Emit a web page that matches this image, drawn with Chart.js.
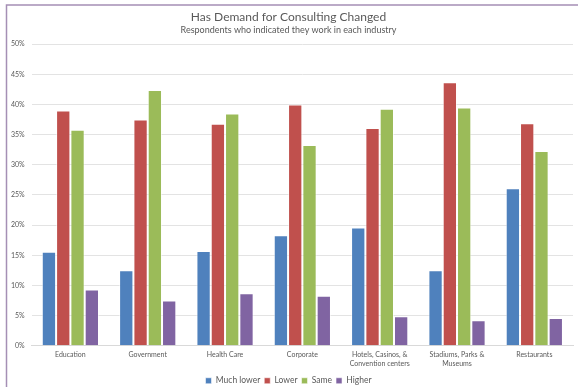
<!DOCTYPE html>
<html>
<head>
<meta charset="utf-8">
<script src="https://cdn.jsdelivr.net/npm/chart.js@4"></script>
<style>
  html, body { margin: 0; padding: 0; background: #fff; }
  #wrap { width: 578px; height: 387px; position: relative; }
</style>
</head>
<body>
<div id="wrap"><canvas id="demandChart"></canvas></div>
<script>
// Industries along the x axis
const industries = [
  "Education",
  "Government",
  "Health Care",
  "Corporate",
  ["Hotels, Casinos, &", "Convention centers"],
  ["Stadiums, Parks &", "Museums"],
  "Restaurants",
];

// Share of respondents per answer (percent)
const muchLower = [15.6, 12.5, 15.7, 18.3, 19.6, 12.5, 26.1];
const lower = [39.0, 37.5, 36.8, 40.0, 36.1, 43.7, 36.9];
const same = [35.8, 42.4, 38.5, 33.3, 39.3, 39.5, 32.3];
const higher = [9.3, 7.5, 8.7, 8.3, 4.9, 4.2, 4.6];

const seriesNames = ["Much lower", "Lower", "Same", "Higher"];
const seriesColors = ["#4f81bd", "#c0504d", "#9bbb59", "#8064a2"];

// Light purple frame along the top and left edge
const framePlugin = {
  id: "frame",
  beforeDraw(chart) {
    const ctx = chart.ctx;
    ctx.save();
    ctx.strokeStyle = "#a58fb5";
    ctx.lineWidth = 1.5;
    ctx.beginPath();
    ctx.moveTo(6.5, chart.height);
    ctx.lineTo(6.5, 5);
    ctx.lineTo(chart.width, 5);
    ctx.stroke();
    ctx.restore();
  },
};

const fontFamily = "Lato, 'Open Sans', sans-serif";
const labelFont = { family: fontFamily, size: 7 };

const ctx = document.getElementById("demandChart").getContext("2d");
new Chart(ctx, {
  type: "bar",
  data: {
    labels: industries,
    datasets: [muchLower, lower, same, higher].map((values, i) => ({
      label: seriesNames[i],
      data: values,
      backgroundColor: seriesColors[i],
      borderColor: "rgba(255,255,255,0.55)",
      borderWidth: 1,
      barPercentage: 1,
      categoryPercentage: 0.74,
    })),
  },
  options: {
    responsive: true,
    maintainAspectRatio: false,
    animation: false,
    layout: { padding: { left: 4, top: 10, right: 5, bottom: -8 } },
    plugins: {
      title: {
        display: true,
        text: "Has Demand for Consulting Changed",
        color: "#595959",
        font: { family: fontFamily, size: 12, weight: "normal" },
        padding: { top: 0, bottom: 0 },
      },
      subtitle: {
        display: true,
        text: "Respondents who indicated they work in each industry",
        color: "#595959",
        font: { family: fontFamily, size: 9 },
        padding: { top: 0, bottom: 9 },
      },
      legend: {
        position: "bottom",
        labels: {
          boxWidth: 6,
          boxHeight: 6,
          padding: 4,
          color: "#595959",
          font: { family: fontFamily, size: 8.5 },
        },
      },
      tooltip: { enabled: false },
    },
    scales: {
      x: {
        grid: { display: false, drawTicks: false },
        border: { color: "#d9d9d9" },
        ticks: {
          color: "#595959",
          font: labelFont,
          maxRotation: 0,
          autoSkip: false,
          padding: 5,
        },
      },
      y: {
        min: 0,
        max: 50,
        ticks: {
          stepSize: 5,
          color: "#595959",
          font: labelFont,
          padding: 7,
          callback: (v) => v + "%",
        },
        grid: { color: "#e3e3e3", drawTicks: false },
        border: { display: false },
      },
    },
  },
  plugins: [framePlugin],
});
</script>
</body>
</html>
